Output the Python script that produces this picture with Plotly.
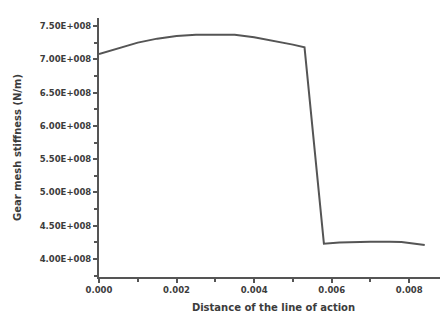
import plotly.graph_objects as go

distance = [0, 0.0005, 0.001, 0.0015, 0.002, 0.0025, 0.003, 0.0035, 0.004, 0.0045,
            0.005, 0.0053, 0.0058, 0.0062, 0.0065, 0.007, 0.0075, 0.0078, 0.008, 0.0084]
stiffness = [7.08e8, 7.17e8, 7.25e8, 7.31e8, 7.35e8, 7.37e8, 7.375e8, 7.37e8, 7.33e8, 7.28e8,
             7.22e8, 7.18e8, 4.23e8, 4.25e8, 4.255e8, 4.26e8, 4.26e8, 4.255e8, 4.24e8, 4.21e8]

y_tickvals = [4.0e8, 4.5e8, 5.0e8, 5.5e8, 6.0e8, 6.5e8, 7.0e8, 7.5e8]
y_ticktext = ["4.00E+008", "4.50E+008", "5.00E+008", "5.50E+008",
              "6.00E+008", "6.50E+008", "7.00E+008", "7.50E+008"]
x_tickvals = [0, 0.002, 0.004, 0.006, 0.008]
x_ticktext = ["0.000", "0.002", "0.004", "0.006", "0.008"]

fig = go.Figure()
fig.add_trace(go.Scatter(x=distance, y=stiffness, mode="lines",
                         line=dict(color="#555555", width=2), showlegend=False))

tick_font = dict(family="DejaVu Sans", size=8.5, color="#3c3c3c", weight="bold")
title_font = dict(family="DejaVu Sans", size=10, color="#3c3c3c", weight="bold")
fig.update_layout(
    width=440, height=312,
    margin=dict(l=91, r=0, t=10, b=43),
    paper_bgcolor="white", plot_bgcolor="white",
    xaxis=dict(range=[0, 0.009], tickvals=x_tickvals, ticktext=x_ticktext,
               ticks="outside", ticklen=4, tickwidth=1.5, tickcolor="#555555",
               showline=True, linecolor="#555555", linewidth=2, showgrid=False,
               zeroline=False, tickfont=tick_font,
               minor=dict(dtick=0.001, tick0=0, ticks="outside", ticklen=3,
                          tickcolor="#555555", showgrid=False),
               title=dict(text="Distance of the line of action", font=title_font, standoff=10)),
    yaxis=dict(range=[3.73e8, 7.62e8], tickvals=y_tickvals, ticktext=y_ticktext,
               ticks="outside", ticklen=4, tickwidth=1.5, tickcolor="#555555",
               showline=True, linecolor="#555555", linewidth=2, showgrid=False,
               zeroline=False, tickfont=tick_font,
               minor=dict(dtick=0.25e8, tick0=4.0e8, ticks="outside", ticklen=3,
                          tickcolor="#555555", showgrid=False),
               title=dict(text="Gear mesh stiffness (N/m)", font=title_font, standoff=16)),
)
fig.write_html("out.html")
